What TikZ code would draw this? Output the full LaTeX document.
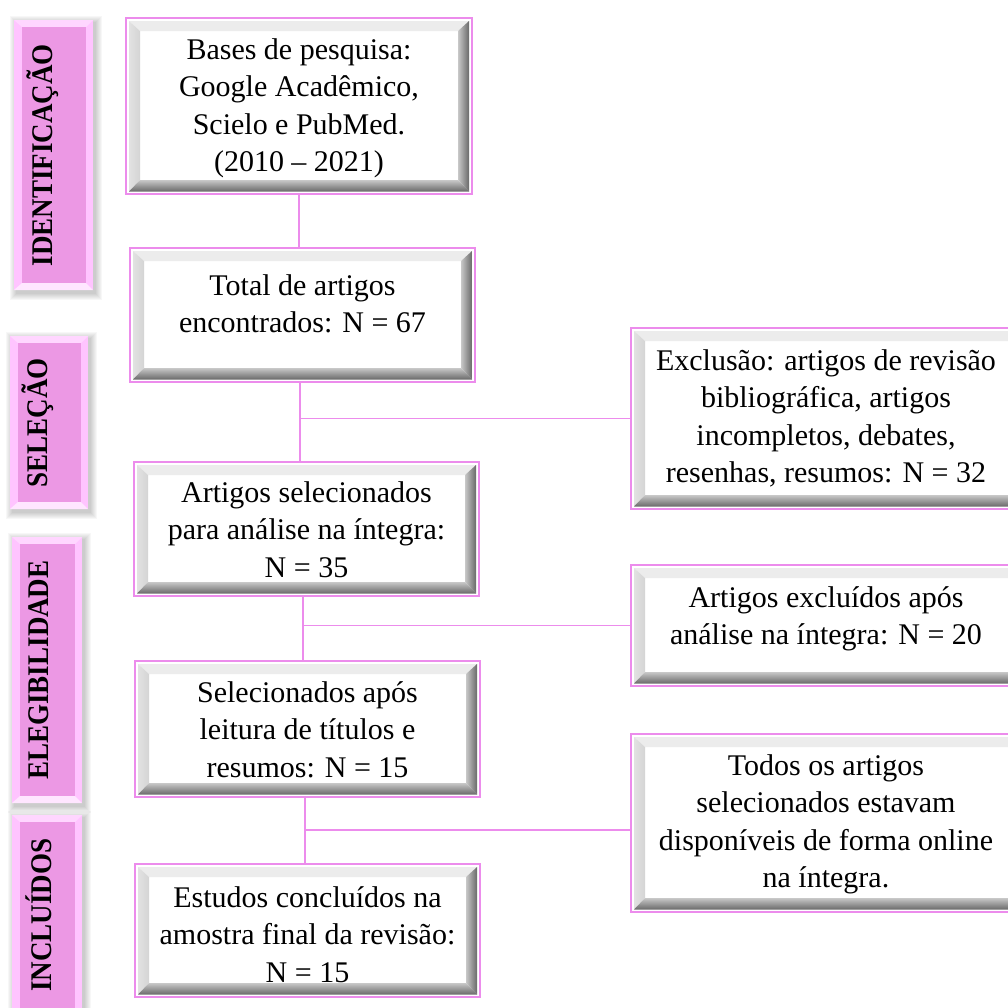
\documentclass[tikz,border=0pt]{standalone}
\usepackage{fontspec}
\setmainfont{Liberation Serif}
\newfontfamily\tabfont[FakeStretch=0.9]{Liberation Serif}
\usetikzlibrary{calc}
\definecolor{pinkline}{RGB}{236,140,236}
\definecolor{conncol}{RGB}{236,140,236}
\definecolor{tabfill}{RGB}{236,152,228}
\definecolor{tabtop}{RGB}{255,214,255}
\definecolor{tabside}{RGB}{255,196,255}
\definecolor{tabbot}{RGB}{255,230,255}
\definecolor{bvA}{RGB}{226,226,226}
\definecolor{bvB}{RGB}{176,176,176}
\definecolor{bvC}{RGB}{212,212,212}
\definecolor{bvD}{RGB}{200,200,200}
\definecolor{bvE}{RGB}{140,140,140}
\definecolor{bvF}{RGB}{105,105,105}
\definecolor{bvT}{RGB}{236,236,236}
\newcommand{\btext}[4]{\parbox[c][#2][t]{#1}{\centering\vspace*{\dimexpr#3-5pt\relax}\rule{0pt}{25pt}#4}}
\newcommand{\btextR}[4]{\parbox[c][#2][t]{#1}{\vspace*{\dimexpr#3-5pt\relax}\parbox[t]{390pt}{\centering\rule{0pt}{25pt}#4}}}
\newcommand{\tabbg}[4]{%
  \foreach \i in {1,...,7}{\fill[black,opacity=0.03] ({#1-\i+3},{#2-\i+3}) rectangle ({#3+\i+2},{#4+\i+3});}
  \fill[tabside] (#1,#2) rectangle (#3,#4);
  \fill[tabtop] (#1,#2) -- (#3,#2) -- ({#3-7},{#2+7}) -- ({#1+8},{#2+7}) -- cycle;
  \fill[tabbot] (#1,#4) -- (#3,#4) -- ({#3-7},{#4-7}) -- ({#1+8},{#4-7}) -- cycle;
  \fill[tabfill] ({#1+8},{#2+7}) rectangle ({#3-7},{#4-7});
}
\tikzset{
  bevbox/.style={draw=pinkline, line width=1.6pt, fill=white, inner sep=0pt, outer sep=0pt,
    font=\fontsize{30}{37.5}\selectfont,
    path picture={
      \coordinate (osw) at ([xshift=3pt,yshift=2.5pt]path picture bounding box.south west);
      \coordinate (one) at ([xshift=-3pt,yshift=-3pt]path picture bounding box.north east);
      \coordinate (isw) at ([xshift=14pt,yshift=14pt]path picture bounding box.south west);
      \coordinate (ine) at ([xshift=-14pt,yshift=-13pt]path picture bounding box.north east);
      \fill[bvT] (osw |- one) -- (one) -- (ine) -- (isw |- ine) -- cycle;
      \shade[left color=bvA, middle color=bvB, right color=bvC] (osw) -- (osw |- one) -- (isw |- ine) -- (isw) -- cycle;
      \shade[left color=bvD, middle color=bvE, right color=bvF] (osw -| one) -- (one) -- (ine) -- (isw -| ine) -- cycle;
      \shade[top color=bvD, middle color=bvE, bottom color=bvF] (osw) -- (isw) -- (isw -| ine) -- (osw -| one) -- cycle;
    }},
  conn/.style={draw=conncol, line width=1.3pt},
  tabtext/.style={font=\tabfont\bfseries\fontsize{30}{32}\selectfont, inner sep=0pt, rotate=90}
}
\begin{document}
\begin{tikzpicture}[x=1pt,y=-1pt]
\useasboundingbox (0,0) rectangle (1008,1007);
\begin{scope}
\clip (0,0) rectangle (1008,1007);
% side tabs
\tabbg{14}{20}{93}{290}
\tabbg{10}{336}{88}{509}
\tabbg{12}{537}{82}{803}
\tabbg{12}{815}{82}{1015}
\node[tabtext] (t1) at (43,155) {IDENTIFICAÇÃO};
\node[tabtext] (t2) at (38,423) {SELEÇÃO};
\node[tabtext] (t3) at (39,670) {ELEGIBILIDADE};
\node[tabtext] (t4) at (39,915) {INCLUÍDOS};
% left boxes
\node[bevbox] (b1) at (299,106) {\btext{346pt}{176pt}{21pt}{Bases de pesquisa:\\Google Acadêmico,\\Scielo e PubMed.\\(2010 – 2021)}};
\node[bevbox] (b2) at (302.5,315) {\btext{345pt}{134pt}{27pt}{Total de artigos\\encontrados: N = 67}};
\node[bevbox] (b3) at (306.5,529) {\btext{345pt}{134pt}{20pt}{Artigos selecionados\\para análise na íntegra:\\N = 35}};
\node[bevbox] (b4) at (307.5,729) {\btext{345pt}{136pt}{21pt}{Selecionados após\\leitura de títulos e\\resumos: N = 15}};
\node[bevbox] (b5) at (307.5,930.5) {\btext{345pt}{133pt}{23pt}{Estudos concluídos na\\amostra final da revisão:\\N = 15}};
% right boxes
\node[bevbox] (r1) at (836,418.5) {\btextR{410pt}{181pt}{22pt}{Exclusão: artigos de revisão\\bibliográfica, artigos\\incompletos, debates,\\resenhas, resumos: N = 32}};
\node[bevbox] (r2) at (836,625.5) {\btextR{410pt}{121pt}{22pt}{Artigos excluídos após\\análise na íntegra: N = 20}};
\node[bevbox] (r3) at (836,823) {\btextR{410pt}{178pt}{21pt}{Todos os artigos\\selecionados estavam\\disponíveis de forma online\\na íntegra.}};
% connectors
\draw[conn] (b1.south) -- (b1.south |- b2.north);
\draw[conn] ([xshift=-2.5pt]b2.south) -- ([xshift=-2.5pt]b2.south |- b3.north);
\draw[conn] ([xshift=-2.5pt]b2.south |- r1.west) -- (r1.west);
\draw[conn] ([xshift=-3.5pt]b3.south) -- ([xshift=-3.5pt]b3.south |- b4.north);
\draw[conn] ([xshift=-3.5pt]b3.south |- r2.west) -- (r2.west);
\draw[conn] ([xshift=-2.5pt]b4.south) -- ([xshift=-2.5pt]b4.south |- b5.north);
\coordinate (j3) at (305,830);
\draw[conn] (j3) -- (j3 -| r3.west);
\end{scope}
\end{tikzpicture}
\end{document}
